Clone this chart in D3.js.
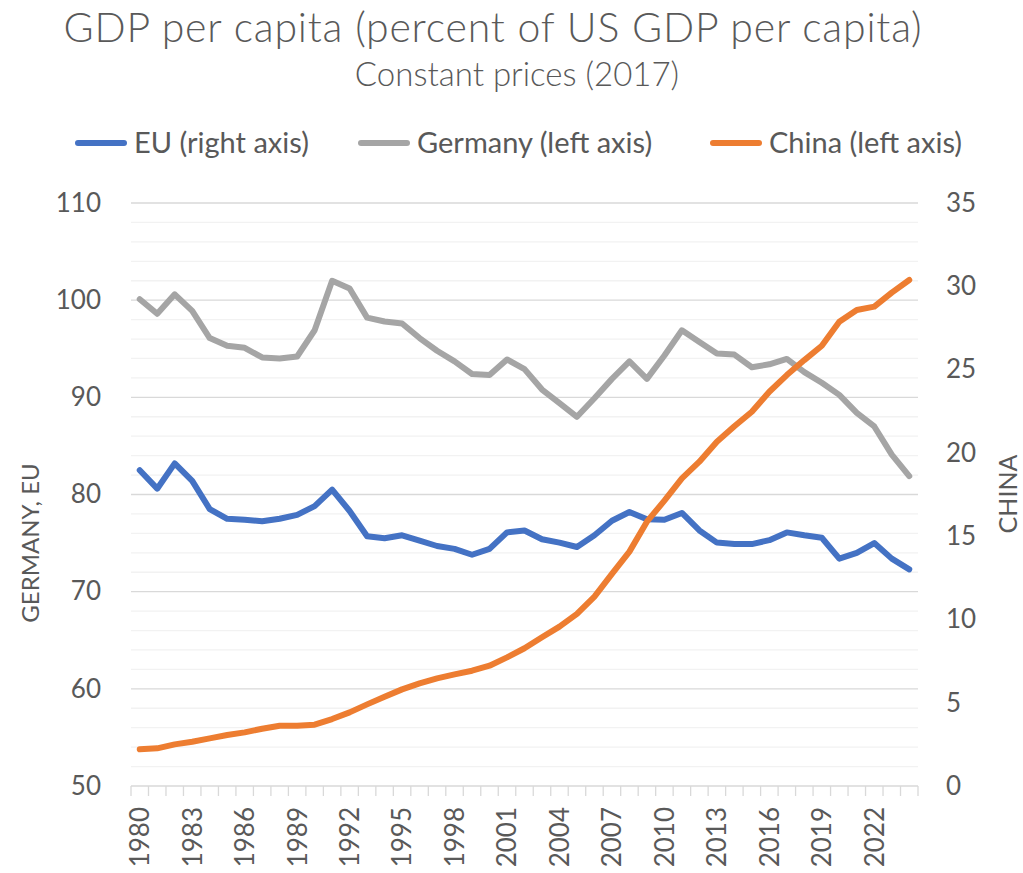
<!DOCTYPE html>
<html>
<head>
<meta charset="utf-8">
<script src="https://cdn.jsdelivr.net/npm/d3@7"></script>
<style>
  body { margin: 0; background: #fff; }
  svg { display: block; font-family: Lato, "Open Sans", sans-serif; }
</style>
</head>
<body>
<div id="chart"></div>
<script>
// years 1980..2024
const years = d3.range(1980, 2025);

// Germany, % of US GDP per capita (left axis)
const germany = [100.1, 98.6, 100.6, 98.9, 96.1, 95.3, 95.1, 94.1, 94.0, 94.2,
  96.9, 102.0, 101.2, 98.2, 97.8, 97.6, 96.1, 94.8, 93.7, 92.4,
  92.3, 93.9, 92.9, 90.8, 89.4, 88.0, 89.9, 91.9, 93.7, 91.9,
  94.3, 96.9, 95.7, 94.5, 94.4, 93.1, 93.4, 93.95, 92.6, 91.5,
  90.25, 88.4, 87.0, 84.1, 81.9];

// EU (left axis)
const eu = [82.5, 80.6, 83.2, 81.4, 78.5, 77.5, 77.4, 77.25, 77.5, 77.9,
  78.8, 80.5, 78.3, 75.7, 75.5, 75.8, 75.25, 74.7, 74.4, 73.8,
  74.4, 76.1, 76.3, 75.4, 75.05, 74.6, 75.8, 77.3, 78.2, 77.45,
  77.4, 78.1, 76.3, 75.05, 74.9, 74.9, 75.3, 76.1, 75.8, 75.55,
  73.4, 74.0, 75.0, 73.4, 72.3];

// China (right axis)
const china = [2.2, 2.26, 2.5, 2.66, 2.86, 3.06, 3.22, 3.44, 3.62, 3.62,
  3.68, 4.02, 4.42, 4.9, 5.36, 5.8, 6.16, 6.46, 6.7, 6.92,
  7.22, 7.72, 8.27, 8.93, 9.57, 10.33, 11.37, 12.73, 14.07, 15.87,
  17.13, 18.47, 19.47, 20.67, 21.6, 22.47, 23.67, 24.67, 25.57, 26.43,
  27.87, 28.58, 28.78, 29.62, 30.38];

const leftTicks = [50, 60, 70, 80, 90, 100, 110];
const rightTicks = [0, 5, 10, 15, 20, 25, 30, 35];
const xLabelYears = years.filter((d) => (d - 1980) % 3 === 0);

const series = [
  { name: "EU (right axis)", values: eu, axis: "left", color: "#4472C4" },
  { name: "Germany (left axis)", values: germany, axis: "left", color: "#A5A5A5" },
  { name: "China (left axis)", values: china, axis: "right", color: "#ED7D31" },
];

const width = 1023, height = 873;
const marginTop = 203, marginRight = 105, marginBottom = 87, marginLeft = 131;
const textColor = "#595959";

const x = d3.scaleBand().domain(years).range([marginLeft, width - marginRight]);
const yL = d3.scaleLinear().domain([50, 110]).range([height - marginBottom, marginTop]);
const yR = d3.scaleLinear().domain([0, 35]).range([height - marginBottom, marginTop]);

const svg = d3.select("#chart").append("svg")
  .attr("width", width)
  .attr("height", height)
  .attr("viewBox", [0, 0, width, height]);

// minor gridlines (every 2 on the left axis)
svg.append("g")
  .selectAll("line")
  .data(d3.range(52, 110, 2).filter((d) => d % 10 !== 0))
  .join("line")
  .attr("x1", marginLeft).attr("x2", width - marginRight)
  .attr("y1", (d) => yL(d)).attr("y2", (d) => yL(d))
  .attr("stroke", "#f2f2f2").attr("stroke-width", 1.3);

// major gridlines
svg.append("g")
  .selectAll("line")
  .data(leftTicks.slice(1))
  .join("line")
  .attr("x1", marginLeft).attr("x2", width - marginRight)
  .attr("y1", (d) => yL(d)).attr("y2", (d) => yL(d))
  .attr("stroke", "#d9d9d9").attr("stroke-width", 1.3);

// x axis line + category ticks
const xAxisG = svg.append("g");
xAxisG.append("line")
  .attr("x1", marginLeft).attr("x2", width - marginRight)
  .attr("y1", yL(50)).attr("y2", yL(50))
  .attr("stroke", "#d9d9d9").attr("stroke-width", 1.3);
xAxisG.selectAll(".tk")
  .data(years.concat([2025]))
  .join("line")
  .attr("class", "tk")
  .attr("x1", (d) => d === 2025 ? x.range()[1] : x(d))
  .attr("x2", (d) => d === 2025 ? x.range()[1] : x(d))
  .attr("y1", yL(50)).attr("y2", yL(50) + 10)
  .attr("stroke", "#d9d9d9").attr("stroke-width", 1.3);

// x labels through d3 axis
svg.append("g")
  .attr("transform", `translate(0,${yL(50)})`)
  .call(d3.axisBottom(x).tickValues(xLabelYears).tickSize(0))
  .call((g) => g.select(".domain").remove())
  .call((g) => g.selectAll("text")
    .attr("transform", "rotate(-90)")
    .attr("x", -21).attr("y", 0).attr("dy", "0.36em")
    .attr("text-anchor", "end")
    .attr("fill", textColor)
    .style("font-size", "26px")
    .style("font-family", "Lato, sans-serif"));

// left axis
svg.append("g")
  .attr("transform", `translate(${marginLeft},0)`)
  .call(d3.axisLeft(yL).tickValues(leftTicks).tickSize(0).tickPadding(30))
  .call((g) => g.select(".domain").remove())
  .call((g) => g.selectAll("text")
    .attr("fill", textColor)
    .style("font-size", "26px")
    .style("font-family", "Lato, sans-serif"));

// right axis
svg.append("g")
  .attr("transform", `translate(${width - marginRight},0)`)
  .call(d3.axisRight(yR).tickValues(rightTicks).tickSize(0).tickPadding(28))
  .call((g) => g.select(".domain").remove())
  .call((g) => g.selectAll("text")
    .attr("fill", textColor)
    .style("font-size", "26px")
    .style("font-family", "Lato, sans-serif"));

// axis titles
svg.append("text")
  .attr("transform", "translate(30,543) rotate(-90)")
  .attr("text-anchor", "middle").attr("dy", "0.36em")
  .attr("fill", textColor).style("font-size", "24px")
  .text("GERMANY, EU");
svg.append("text")
  .attr("transform", "translate(1008,494) rotate(-90)")
  .attr("text-anchor", "middle").attr("dy", "0.36em")
  .attr("fill", textColor).style("font-size", "25px")
  .text("CHINA");

// lines
const lineFor = (s) => d3.line()
  .x((d, i) => x(years[i]) + x.bandwidth() / 2)
  .y((d) => (s.axis === "left" ? yL(d) : yR(d)));

svg.append("g")
  .attr("fill", "none")
  .attr("stroke-width", 6)
  .attr("stroke-linecap", "round")
  .attr("stroke-linejoin", "round")
  .selectAll("path")
  .data(series)
  .join("path")
  .attr("stroke", (s) => s.color)
  .attr("d", (s) => lineFor(s)(s.values));

// title
svg.append("text")
  .attr("x", 493).attr("y", 42)
  .attr("text-anchor", "middle").attr("fill", textColor)
  .style("font-size", "41px").style("font-weight", 300)
  .style("letter-spacing", "0.8px")
  .text("GDP per capita (percent of US GDP per capita)");
svg.append("text")
  .attr("x", 517).attr("y", 86)
  .attr("text-anchor", "middle").attr("fill", textColor)
  .style("font-size", "33px").style("font-weight", 300)
  .text("Constant prices (2017)");

// legend
const legendX = [75, 358, 710];
const legend = svg.append("g")
  .selectAll("g")
  .data(series)
  .join("g")
  .attr("transform", (d, i) => `translate(${legendX[i]},143)`);
legend.append("line")
  .attr("x1", 3).attr("x2", 49)
  .attr("stroke", (d) => d.color).attr("stroke-width", 6)
  .attr("stroke-linecap", "round");
legend.append("text")
  .attr("x", 59).attr("y", 10)
  .attr("fill", textColor).style("font-size", "29px")
  .text((d) => d.name);
</script>
</body>
</html>
